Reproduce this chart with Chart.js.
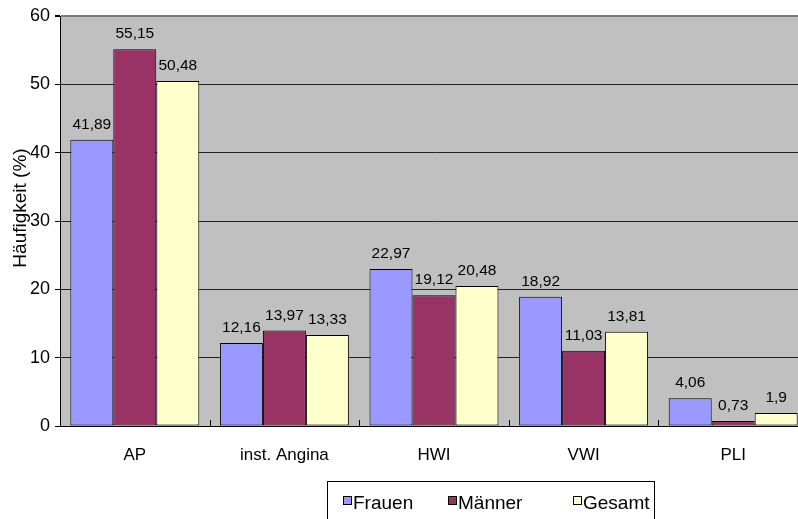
<!DOCTYPE html>
<html>
<head>
<meta charset="utf-8">
<script src="https://cdn.jsdelivr.net/npm/chart.js@4.4.0/dist/chart.umd.min.js"></script>
<style>
  html, body { margin: 0; padding: 0; background: #fff; overflow: hidden; }
  #wrap { width: 810px; height: 519px; }
</style>
</head>
<body>
<div id="wrap"><canvas id="chart" width="810" height="519"></canvas></div>
<script>
// Categories and values (percent)
const categories = ['AP', 'inst. Angina', 'HWI', 'VWI', 'PLI'];
const frauen = [41.89, 12.16, 22.97, 18.92, 4.06];
const maenner = [55.15, 13.97, 19.12, 11.03, 0.73];
const gesamt = [50.48, 13.33, 20.48, 13.81, 1.9];
const yTicks = [0, 10, 20, 30, 40, 50, 60];

const FONT = '"Liberation Sans", Arial, sans-serif';

// Grey plot background behind grid and bars
const plotBackground = {
    id: 'plotBackground',
    beforeDraw(chart) {
        const { ctx, chartArea: a } = chart;
        ctx.save();
        ctx.fillStyle = '#c0c0c0';
        ctx.fillRect(a.left, a.top, a.right - a.left, a.bottom - a.top);
        ctx.restore();
    }
};

// Value labels above each bar, decimal comma
const valueLabels = {
    id: 'valueLabels',
    afterDatasetsDraw(chart) {
        const { ctx } = chart;
        ctx.save();
        ctx.font = '15.5px ' + FONT;
        ctx.fillStyle = '#000';
        ctx.textAlign = 'center';
        ctx.textBaseline = 'alphabetic';
        chart.data.datasets.forEach((ds, i) => {
            chart.getDatasetMeta(i).data.forEach((bar, j) => {
                const txt = String(ds.data[j]).replace('.', ',');
                ctx.fillText(txt, bar.x, bar.y - 11);
            });
        });
        ctx.restore();
    }
};

// Small category separators pointing up into the plot, y title, boxed legend
const decorations = {
    id: 'decorations',
    afterDraw(chart) {
        const { ctx, chartArea: a } = chart;
        const x = chart.scales.x;
        ctx.save();

        ctx.strokeStyle = '#000';
        ctx.lineWidth = 1;
        for (let i = 1; i < categories.length; i++) {
            const px = Math.round((x.getPixelForValue(i - 1) + x.getPixelForValue(i)) / 2) + 0.5;
            ctx.beginPath();
            ctx.moveTo(px, a.bottom);
            ctx.lineTo(px, a.bottom - 6);
            ctx.stroke();
        }

        // axis title
        ctx.save();
        ctx.translate(21, 208);
        ctx.rotate(-Math.PI / 2);
        ctx.font = '19px ' + FONT;
        ctx.fillStyle = '#000';
        ctx.textAlign = 'center';
        ctx.textBaseline = 'middle';
        ctx.fillText('Häufigkeit (%)', 0, 0);
        ctx.restore();

        // legend
        ctx.fillStyle = '#fff';
        ctx.fillRect(327.5, 481.5, 327, 60);
        ctx.strokeStyle = '#000';
        ctx.strokeRect(327.5, 481.5, 327, 60);
        const slots = [343, 448, 573];
        ctx.font = '19px ' + FONT;
        ctx.textAlign = 'left';
        ctx.textBaseline = 'alphabetic';
        chart.data.datasets.forEach((ds, i) => {
            const sx = slots[i];
            ctx.fillStyle = ds.backgroundColor;
            ctx.fillRect(sx + 0.5, 496.5, 8, 8);
            ctx.strokeStyle = '#000';
            ctx.strokeRect(sx + 0.5, 496.5, 8, 8);
            ctx.fillStyle = '#000';
            ctx.fillText(ds.label, sx + 10, 509);
        });

        ctx.restore();
    }
};

const barStyle = { borderColor: '#000', borderWidth: 1, borderSkipped: false };

new Chart(document.getElementById('chart'), {
    type: 'bar',
    data: {
        labels: categories,
        datasets: [
            { label: 'Frauen', data: frauen, backgroundColor: '#9999ff', ...barStyle },
            { label: 'Männer', data: maenner, backgroundColor: '#993366', ...barStyle },
            { label: 'Gesamt', data: gesamt, backgroundColor: '#ffffcc', ...barStyle }
        ]
    },
    options: {
        responsive: false,
        animation: false,
        events: [],
        layout: { padding: { top: 16, right: 2, left: 0, bottom: 0 } },
        datasets: { bar: { categoryPercentage: 0.862, barPercentage: 1 } },
        plugins: {
            legend: { display: false },
            tooltip: { enabled: false }
        },
        scales: {
            x: {
                grid: { display: false, drawTicks: false },
                border: { display: true, color: '#000', width: 1 },
                ticks: {
                    color: '#000',
                    font: { family: FONT, size: 17 },
                    padding: 19,
                    maxRotation: 0
                },
                afterFit: (s) => { s.height = 93; }
            },
            y: {
                min: 0,
                max: 60,
                afterBuildTicks: (s) => { s.ticks = yTicks.map(v => ({ value: v })); },
                grid: {
                    color: (c) => c.tick && c.tick.value === 60 ? '#7a7a7a' : '#222',
                    lineWidth: (c) => c.tick && c.tick.value === 60 ? 2 : 1,
                    tickLength: 5,
                    tickColor: '#000'
                },
                border: { display: true, color: '#000', width: 1 },
                ticks: {
                    color: '#000',
                    font: { family: FONT, size: 18 },
                    padding: 5
                },
                afterFit: (s) => { s.width = 60; }
            }
        }
    },
    plugins: [plotBackground, valueLabels, decorations]
});
</script>
</body>
</html>
